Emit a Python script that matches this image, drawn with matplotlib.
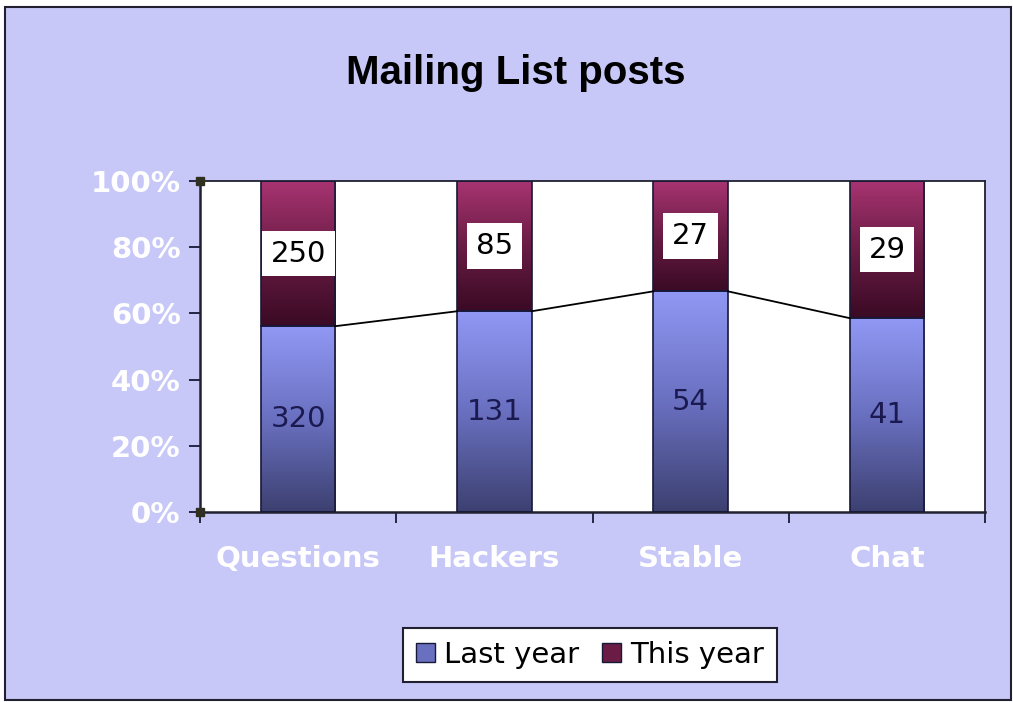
import numpy as np
import matplotlib.pyplot as plt
from matplotlib.colors import LinearSegmentedColormap
from matplotlib.patches import Rectangle

categories = ['Questions', 'Hackers', 'Stable', 'Chat']
last_year = np.array([320, 131, 54, 41])
this_year = np.array([250, 85, 27, 29])
y_ticks = [0, 20, 40, 60, 80, 100]

bg = '#c8c8f8'
narrow = ['Liberation Sans Narrow', 'DejaVu Sans']

total = last_year + this_year
last_pct = last_year / total * 100
this_pct = this_year / total * 100

fig = plt.figure(figsize=(10.13, 7.02), dpi=100)
fig.patch.set_facecolor('white')
fig.patches.append(Rectangle((0.005, 0.003), 0.993, 0.987, transform=fig.transFigure,
                             facecolor=bg, edgecolor='#202030', linewidth=1.5, zorder=-10))

ax = fig.add_axes([200 / 1013, 1 - 512 / 702, 785 / 1013, 331 / 702])
ax.set_facecolor('white')

x = np.arange(len(categories))
w = 0.38
b1 = ax.bar(x, last_pct, w, facecolor='none', edgecolor='#181838', linewidth=1.2, zorder=3)
b2 = ax.bar(x, this_pct, w, bottom=last_pct, facecolor='none', edgecolor='#181838', linewidth=1.2, zorder=3)

cm_last = LinearSegmentedColormap.from_list('last', ['#3c4070', '#6a70c0', '#9098f4'])
cm_this = LinearSegmentedColormap.from_list('this', ['#3a0a24', '#6a1c44', '#a83472'])
grad = np.linspace(0, 1, 256).reshape(-1, 1)

for bars, cm in ((b1, cm_last), (b2, cm_this)):
    for r in bars:
        x0, y0 = r.get_x(), r.get_y()
        im = ax.imshow(grad, cmap=cm, origin='lower', aspect='auto', zorder=2,
                       extent=[x0, x0 + r.get_width(), y0, y0 + r.get_height()])
        im.set_clip_path(r)

# series lines joining the tops of the lower segments
for i in range(len(x) - 1):
    ax.plot([x[i] + w / 2, x[i + 1] - w / 2], [last_pct[i], last_pct[i + 1]],
            color='black', linewidth=1.3, zorder=4)

for i in range(len(x)):
    ax.text(x[i], last_pct[i] / 2, str(last_year[i]), ha='center', va='center',
            fontsize=21, color='#1a1a50', family=narrow, zorder=5)
    ax.text(x[i], last_pct[i] + this_pct[i] / 2, str(this_year[i]), ha='center', va='center',
            fontsize=21, color='black', family=narrow, zorder=5,
            bbox=dict(boxstyle='square,pad=0.3', facecolor='white', edgecolor='none'))

ax.set_xlim(-0.5, len(x) - 0.5)
ax.set_ylim(0, 100)
ax.set_yticks(y_ticks)
ax.set_yticklabels([f'{v}%' for v in y_ticks])
ax.set_xticks(np.arange(len(x) + 1) - 0.5)
ax.set_xticklabels([])
ax.set_xticks(x, minor=True)
ax.set_xticklabels(categories, minor=True)
ax.tick_params(axis='x', which='major', length=8, width=1.3, color='#181838', direction='out')
ax.tick_params(axis='x', which='minor', length=0, pad=24)
ax.tick_params(axis='y', length=8, width=1.3, color='#181838', pad=6)
for lab in ax.get_yticklabels() + ax.get_xticklabels(minor=True):
    lab.set_family(narrow)
    lab.set_fontweight('bold')
    lab.set_color('white')
    lab.set_fontsize(21)
for s in ax.spines.values():
    s.set_color('#202030')
    s.set_linewidth(1.3)
ax.spines['left'].set_linewidth(1.8)
ax.spines['bottom'].set_linewidth(1.8)
ax.plot([-0.5, -0.5], [0, 100], linestyle='none', marker='s', markersize=6,
        color='#303020', clip_on=False, zorder=6)

fig.text(516 / 1013, 1 - 73 / 702, 'Mailing List posts', ha='center', va='center',
         fontsize=29, fontweight='bold', color='black', family=['Liberation Sans', 'DejaVu Sans'])

h1 = Rectangle((0, 0), 1, 1, facecolor='#6a70c0', edgecolor='#181838')
h2 = Rectangle((0, 0), 1, 1, facecolor='#6a1c44', edgecolor='#181838')
leg = fig.legend([h1, h2], ['Last year', 'This year'], loc='center',
                 bbox_to_anchor=(590 / 1013, 1 - 655 / 702), ncol=2, frameon=True,
                 fancybox=False, prop={'family': ['DejaVu Sans'], 'size': 21},
                 handlelength=0.65, handleheight=0.65, handletextpad=0.3, columnspacing=0.8,
                 borderpad=0.45, framealpha=1)
leg.get_frame().set_edgecolor('#202030')
leg.get_frame().set_linewidth(1.5)

fig.savefig('out.png', dpi=100, facecolor=fig.get_facecolor())
